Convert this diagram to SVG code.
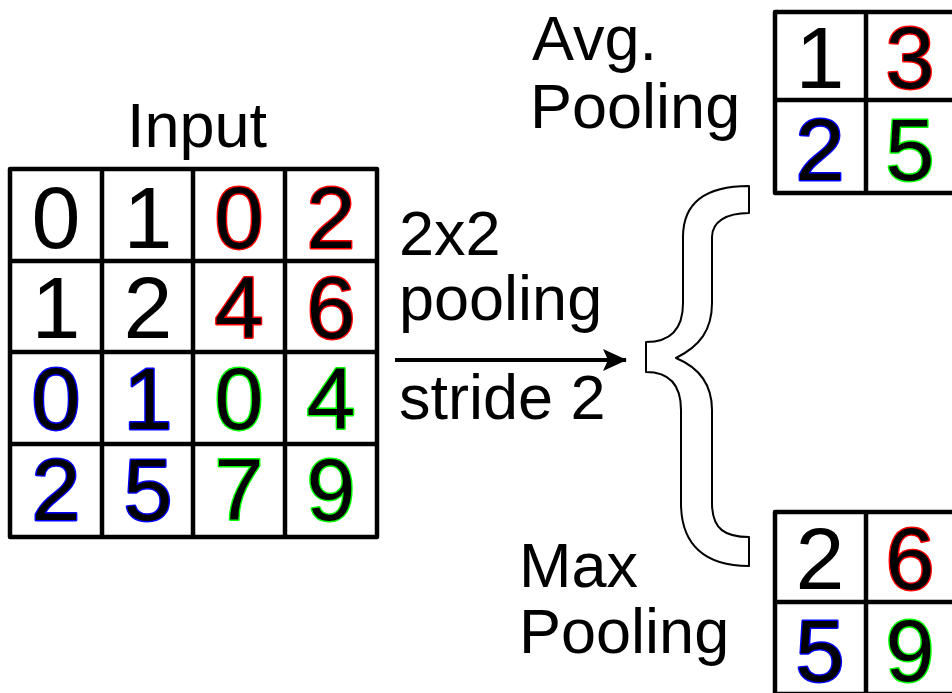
<svg xmlns="http://www.w3.org/2000/svg" width="952" height="693" viewBox="0 0 952 693">
  <style>
    .grid { fill: none; stroke: #000; stroke-width: 4.5; stroke-linejoin: round; }
    .label { font-family: "Liberation Sans", Arial, sans-serif; font-size: 63px; fill: #000; }
    .num { font-family: "Liberation Sans", Arial, sans-serif; font-size: 88px; fill: #000; text-anchor: middle; stroke-width: 2.8; paint-order: stroke; stroke-linejoin: round; }
    .k { stroke: none; }
    .r { stroke: #ff0000; }
    .b { stroke: #0000ff; }
    .g { stroke: #00ff00; }
  </style>
  <defs>
    <marker id="arrow" markerWidth="24" markerHeight="24" viewBox="0 0 24 24" refX="23" refY="12" orient="auto" markerUnits="userSpaceOnUse">
      <path d="M0,1 L24,12 L0,23 L5,12 Z" fill="#000"/>
    </marker>
  </defs>
  <rect width="952" height="693" fill="#fff"/>

  <!-- input feature map -->
  <g id="input">
    <text class="label" x="197" y="147" text-anchor="middle">Input</text>
    <rect class="grid" x="10" y="169" width="367" height="368"/>
    <path class="grid" d="M102,169 V537 M193,169 V537 M285,169 V537 M10,261 H377 M10,352 H377 M10,444 H377"/>
    <text class="num k" x="56" y="248">0</text>
    <text class="num k" x="148" y="248">1</text>
    <text class="num r" x="239" y="248">0</text>
    <text class="num r" x="331" y="248">2</text>
    <text class="num k" x="56" y="338">1</text>
    <text class="num k" x="148" y="338">2</text>
    <text class="num r" x="239" y="338">4</text>
    <text class="num r" x="331" y="338">6</text>
    <text class="num b" x="56" y="429">0</text>
    <text class="num b" x="148" y="429">1</text>
    <text class="num g" x="239" y="429">0</text>
    <text class="num g" x="331" y="429">4</text>
    <text class="num b" x="56" y="520">2</text>
    <text class="num b" x="148" y="520">5</text>
    <text class="num g" x="239" y="520">7</text>
    <text class="num g" x="331" y="520">9</text>
  </g>

  <!-- pooling operation -->
  <g id="operation">
    <text class="label" x="399" y="255">2x2</text>
    <text class="label" x="399" y="320">pooling</text>
    <text class="label" x="399" y="419">stride 2</text>
  </g>

  <g id="connectors">
    <line x1="395" y1="360" x2="626" y2="360" stroke="#000" stroke-width="4" marker-end="url(#arrow)"/>
    <path id="brace" d="M749,186 C712,186 683,198 683,237 L683,303 C683,330 670,342 646,342 L646,372 C670,372 681,386 681,410 L681,503 C681,545 705,566 749,566 L749,537 C726,537 712,530 712,503 L712,410 C712,386 700,368 676,358 C700,346 712,330 712,303 L712,237 C712,222 726,213 749,213 Z" fill="#fff" stroke="#000" stroke-width="2" stroke-linejoin="round"/>
  </g>

  <!-- average pooling result -->
  <g id="avg-pooling">
    <text class="label" x="532" y="60">Avg.</text>
    <text class="label" x="530" y="128">Pooling</text>
    <rect class="grid" x="775" y="12" width="182" height="181"/>
    <path class="grid" d="M866,12 V193 M775,100 H957"/>
    <text class="num k" x="820" y="88">1</text>
    <text class="num r" x="910" y="88">3</text>
    <text class="num b" x="820" y="180">2</text>
    <text class="num g" x="910" y="180">5</text>
  </g>

  <!-- max pooling result -->
  <g id="max-pooling">
    <text class="label" x="519" y="587">Max</text>
    <text class="label" x="519" y="653">Pooling</text>
    <rect class="grid" x="775" y="512" width="182" height="182"/>
    <path class="grid" d="M866,512 V694 M775,602 H957"/>
    <text class="num k" x="820" y="589">2</text>
    <text class="num r" x="910" y="589">6</text>
    <text class="num b" x="820" y="681">5</text>
    <text class="num g" x="910" y="681">9</text>
  </g>
</svg>
